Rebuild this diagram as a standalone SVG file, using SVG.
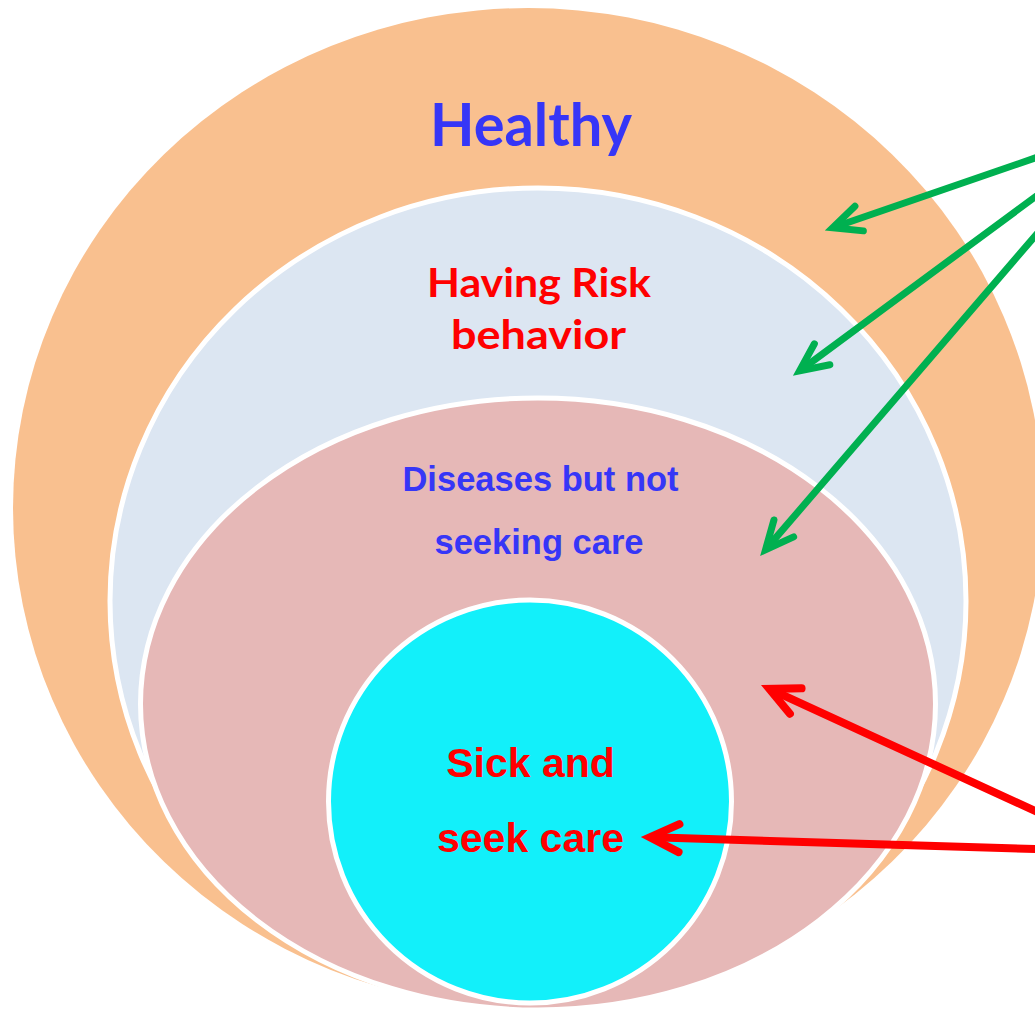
<svg xmlns="http://www.w3.org/2000/svg" width="1035" height="1013" viewBox="0 0 1035 1013">
  <style>
    .ring { stroke: #FFFFFF; stroke-width: 5; }
    .calibri { font-family: Lato, "Open Sans", "Liberation Sans", sans-serif; font-weight: bold; text-anchor: middle; }
    .arial { font-family: "Liberation Sans", Arial, sans-serif; font-weight: bold; text-anchor: middle; }
    .blue { fill: #3636F7; }
    .red { fill: #FF0000; }
    .green-line { stroke: #00B050; stroke-width: 7; fill: none; stroke-linecap: round; }
    .red-line { stroke: #FF0000; stroke-width: 8; fill: none; stroke-linecap: round; }
  </style>
  <defs>
    <marker id="head-green" markerUnits="userSpaceOnUse" orient="auto" overflow="visible" markerWidth="1" markerHeight="1" refX="0" refY="0">
      <path d="M -25,-13 L 3,0 L -25,13" fill="none" stroke="#00B050" stroke-width="7" stroke-linecap="round" stroke-linejoin="miter"/>
    </marker>
    <marker id="head-red" markerUnits="userSpaceOnUse" orient="auto" overflow="visible" markerWidth="1" markerHeight="1" refX="0" refY="0">
      <path d="M -26,-14 L 3,0 L -26,14" fill="none" stroke="#FF0000" stroke-width="8" stroke-linecap="round" stroke-linejoin="miter"/>
    </marker>
  </defs>

  <rect width="1035" height="1013" fill="#FFFFFF"/>

  <!-- outer level -->
  <g id="healthy">
    <ellipse cx="528" cy="508" rx="515" ry="500" fill="#F9C08F"/>
    <text class="calibri blue" x="531" y="146" font-size="59" textLength="202" lengthAdjust="spacingAndGlyphs">Healthy</text>
  </g>

  <!-- second level -->
  <g id="risk-behavior">
    <ellipse class="ring" cx="538" cy="601" rx="428" ry="413" fill="#DCE6F2"/>
    <text class="calibri red" x="539" y="297" font-size="40" textLength="224" lengthAdjust="spacingAndGlyphs">Having Risk</text>
    <text class="calibri red" x="538.5" y="349" font-size="40" textLength="175" lengthAdjust="spacingAndGlyphs">behavior</text>
  </g>

  <!-- third level -->
  <g id="diseases-no-care">
    <ellipse class="ring" cx="538" cy="704" rx="397.5" ry="306" fill="#E6B8B7"/>
    <text class="arial blue" x="540.5" y="491" font-size="34.5">Diseases but not</text>
    <text class="arial blue" x="539" y="554" font-size="34.5">seeking care</text>
  </g>

  <!-- inner level -->
  <g id="sick-seek-care">
    <circle class="ring" cx="530" cy="801.5" r="201.5" fill="#12F0FA" stroke-width="4.5"/>
    <text class="arial red" x="530.5" y="777" font-size="41">Sick and</text>
    <text class="arial red" x="530.5" y="852" font-size="41">seek care</text>
  </g>

  <!-- pointers coming in from the right -->
  <g id="connectors">
    <line class="green-line" x1="1045" y1="154.6" x2="835.5" y2="226.7" marker-end="url(#head-green)"/>
    <line class="green-line" x1="1045" y1="189.6" x2="802" y2="369.1" marker-end="url(#head-green)"/>
    <line class="green-line" x1="1045" y1="224.4" x2="767.5" y2="547.4" marker-end="url(#head-green)"/>
    <line class="red-line" x1="1045" y1="815.5" x2="772.1" y2="690.2" marker-end="url(#head-red)"/>
    <line class="red-line" x1="1045" y1="849.3" x2="653" y2="837.3" marker-end="url(#head-red)"/>
  </g>
</svg>
